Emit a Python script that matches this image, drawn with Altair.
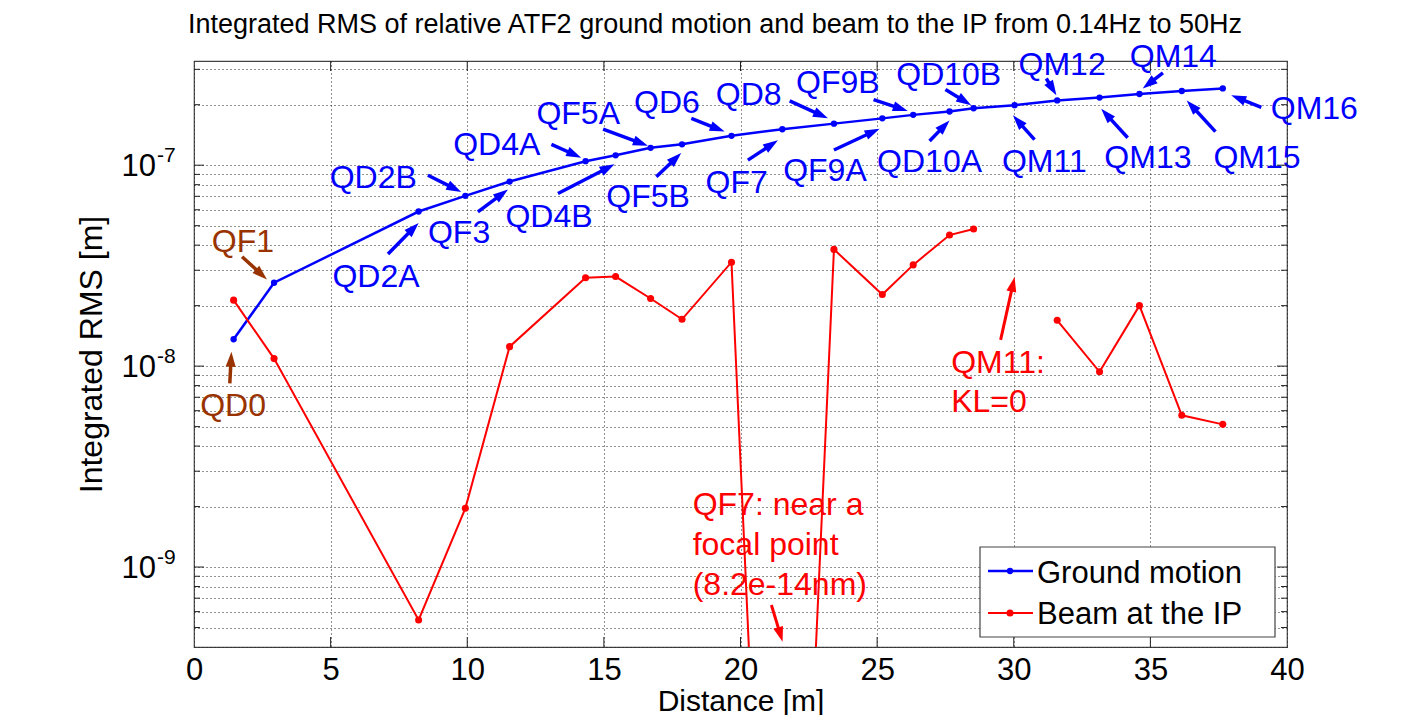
import math
import altair as alt
import pandas as pd

# ---------------- data ----------------
magnets = ["QD0", "QF1", "QD2A", "QD2B", "QF3", "QD4A", "QD4B", "QF5A", "QF5B", "QD6",
           "QF7", "QD8", "QF9A", "QF9B", "QD10A", "QD10B", "QM11", "QM12", "QM13",
           "QM14", "QM15", "QM16"]
distance = [1.45, 2.93, 8.22, 9.93, 11.55, 14.33, 15.43, 16.71, 17.86, 19.67,
            21.53, 23.42, 25.19, 26.32, 27.65, 28.53, 30.03, 31.59, 33.14,
            34.60, 36.15, 37.65]
ground_motion = [1.36e-8, 2.60e-8, 5.88e-8, 7.04e-8, 8.29e-8, 1.047e-7, 1.12e-7, 1.22e-7,
                 1.27e-7, 1.40e-7, 1.51e-7, 1.61e-7, 1.71e-7, 1.78e-7, 1.85e-7, 1.92e-7,
                 1.99e-7, 2.10e-7, 2.17e-7, 2.26e-7, 2.34e-7, 2.41e-7]
beam_ip = [2.13e-8, 1.09e-8, 5.45e-10, 1.96e-9, 1.25e-8, 2.75e-8, 2.79e-8, 2.17e-8,
           1.71e-8, 3.29e-8, 8.2e-14, 3.81e-8, 2.27e-8, 3.19e-8, 4.49e-8, 4.81e-8,
           None, 1.69e-8, 9.37e-9, 2.00e-8, 5.69e-9, 5.13e-9]

# magnet labels: text, label centre (distance, value at baseline), arrow tail, arrow head
label_text = ["QD0", "QF1", "QD2A", "QD2B", "QF3", "QD4A", "QD4B", "QF5A", "QF5B", "QD6",
              "QF7", "QD8", "QF9A", "QF9B", "QD10A", "QD10B", "QM11", "QM12", "QM13",
              "QM14", "QM15", "QM16"]
label_x = [1.43, 1.79, 6.66, 6.56, 9.70, 11.08, 12.99, 14.06, 16.62, 17.31, 19.86, 20.30,
           23.09, 23.56, 26.92, 27.62, 31.12, 31.77, 34.91, 35.84, 38.90, 41.00]
label_y = [5.64e-9, 3.7e-8, 2.47e-8, 7.66e-8, 4.10e-8, 1.12e-7, 4.93e-8, 1.61e-7, 6.21e-8,
           1.81e-7, 7.28e-8, 1.99e-7, 8.32e-8, 2.28e-7, 9.27e-8, 2.50e-7, 9.27e-8, 2.82e-7,
           9.63e-8, 3.08e-7, 9.63e-8, 1.69e-7]
tail_x = [1.31, 1.76, 7.10, 8.56, 10.39, 13.08, 13.32, 14.97, 16.92, 18.20, 20.27, 21.80,
          23.42, 24.87, 26.92, 27.50, 30.76, 31.19, 34.17, 35.46, 37.38, 39.06]
tail_y = [8.2e-9, 3.5e-8, 3.61e-8, 8.91e-8, 5.86e-8, 1.27e-7, 7.23e-8, 1.51e-7, 8.75e-8,
          1.71e-7, 1.06e-7, 2.09e-7, 1.19e-7, 2.12e-7, 1.32e-7, 2.38e-7, 1.34e-7, 2.70e-7,
          1.37e-7, 2.88e-7, 1.47e-7, 1.94e-7]
head_x = [1.37, 2.67, 8.22, 9.78, 11.49, 14.17, 15.39, 16.61, 17.83, 19.42, 21.37, 23.20,
          25.09, 26.12, 27.65, 28.44, 29.97, 31.56, 33.20, 34.72, 36.33, 37.96]
head_y = [1.18e-8, 2.70e-8, 5.16e-8, 7.36e-8, 7.57e-8, 1.09e-7, 1.01e-7, 1.25e-7, 1.15e-7,
          1.47e-7, 1.33e-7, 1.71e-7, 1.52e-7, 1.86e-7, 1.67e-7, 1.99e-7, 1.77e-7, 2.23e-7,
          1.91e-7, 2.41e-7, 2.10e-7, 2.23e-7]
label_color = ["#993300", "#993300"] + ["#0000FF"] * 20

# red notes
note_text = ["QF7: near a", "focal point", "(8.2e-14nm)", "QM11:", "KL=0"]
note_x = [18.25, 18.25, 18.25, 27.71, 27.71]
note_y = [1.82e-9, 1.15e-9, 7.26e-10, 9.23e-9, 5.93e-9]
note_tail_x = [21.13, 29.52]
note_tail_y = [6.47e-10, 1.35e-8]
note_head_x = [21.54, 30.03]
note_head_y = [4.25e-10, 2.78e-8]

x_ticks = [0, 5, 10, 15, 20, 25, 30, 35, 40]
decades = [1e-9, 1e-8, 1e-7]
decade_sup = ["-9", "-8", "-7"]
TITLE = "Integrated RMS of relative ATF2 ground motion and beam to the IP from 0.14Hz to 50Hz"

# ---------------- geometry / styles ----------------
W, H = 1093, 586
XMIN, XMAX = 0, 40
YMIN, YMAX = 4e-10, 3.3e-7
FONT = "Liberation Sans"
BLUE, RED = "#0000FF", "#FF0000"
ARROW = "M0,0L-0.5,1.5L0.5,1.5Z"

LMAX, LMIN = math.log10(YMAX), math.log10(YMIN)


def to_px(d, v):
    return (d - XMIN) / (XMAX - XMIN) * W, (LMAX - math.log10(v)) / (LMAX - LMIN) * H


def to_data(px, py):
    return XMIN + px / W * (XMAX - XMIN), 10 ** (LMAX - py / H * (LMAX - LMIN))


def arrow_rows(tx, ty, hx, hy, color, width):
    rows = []
    for a, b, c, d in zip(tx, ty, hx, hy):
        p0 = to_px(a, b)
        p1 = to_px(c, d)
        dx, dy = p1[0] - p0[0], p1[1] - p0[1]
        n = math.hypot(dx, dy)
        ex, ey = to_data(p1[0] - dx / n * 9, p1[1] - dy / n * 9)
        ang = math.degrees(math.atan2(dx, -dy)) % 360
        rows.append(dict(x=a, y=b, x2=ex, y2=ey, hx=c, hy=d, angle=ang, color=color, w=width))
    return rows


xs = alt.Scale(domain=[XMIN, XMAX], nice=False, zero=False)
ys = alt.Scale(type="log", domain=[YMIN, YMAX], nice=False)

ygrid = [m * 10.0 ** e for e in (-10, -9, -8, -7) for m in range(1, 10)
         if YMIN * 0.999 <= m * 10.0 ** e <= YMAX]
minor = [v for v in ygrid if all(abs(v - d) / d > 1e-6 for d in decades) and v > YMIN * 1.01]

xaxis = alt.Axis(values=x_ticks, grid=True, gridDash=[1, 3], gridColor="#222", gridWidth=1,
                 domain=False, ticks=False, labelFontSize=31, labelFont=FONT,
                 labelColor="black", labelPadding=8, labelFlush=False,
                 title="Distance [m]", titleFont=FONT, titleFontSize=30,
                 titleFontWeight="normal", titleColor="black",
                 titleBaseline="alphabetic", titleY=63, titleX=W / 2)
yaxis = alt.Axis(values=ygrid, grid=True, gridDash=[1, 3], gridColor="#222", gridWidth=1,
                 domain=False, ticks=False, labels=False,
                 title="Integrated RMS [m]", titleFont=FONT, titleFontSize=32,
                 titleFontWeight="normal", titleColor="black", titleAngle=-90,
                 titleBaseline="alphabetic", titleX=-93, titleY=H / 2, titleAlign="center")

df = pd.DataFrame({"magnet": magnets, "distance": distance, "gm": ground_motion,
                   "beam": beam_ip})
seg = []
s = 1
for v in beam_ip:
    if v is None:
        s += 1
    seg.append(s)
df["seg"] = seg
beam_df = df[df["beam"].notna()].copy()


def X(f):
    return alt.X(f, type="quantitative", scale=xs, axis=xaxis)


def Y(f):
    return alt.Y(f, type="quantitative", scale=ys, axis=yaxis)


gm_line = alt.Chart(df).mark_line(color=BLUE, strokeWidth=2.5, clip=True).encode(
    x=X("distance"), y=Y("gm"))
gm_pts = alt.Chart(df).mark_point(color=BLUE, filled=True, size=40, opacity=1,
                                  clip=True).encode(x=X("distance"), y=Y("gm"))
bm_line = alt.Chart(beam_df).mark_line(color=RED, strokeWidth=2, clip=True).encode(
    x=X("distance"), y=Y("beam"), detail="seg:N")
bm_pts = alt.Chart(beam_df).mark_point(color=RED, filled=True, size=50, opacity=1,
                                       clip=True).encode(x=X("distance"), y=Y("beam"))

lab_df = pd.DataFrame({"text": label_text, "x": label_x, "y": label_y, "color": label_color})
labels = alt.Chart(lab_df).mark_text(font=FONT, fontSize=32, align="center",
                                     baseline="alphabetic").encode(
    x=X("x"), y=Y("y"), text="text:N", color=alt.Color("color:N", scale=None))

note_df = pd.DataFrame({"text": note_text, "x": note_x, "y": note_y})
notes = alt.Chart(note_df).mark_text(font=FONT, fontSize=32, align="left",
                                     baseline="alphabetic", color=RED).encode(
    x=X("x"), y=Y("y"), text="text:N")

rows = []
for i in range(len(label_text)):
    rows += arrow_rows([tail_x[i]], [tail_y[i]], [head_x[i]], [head_y[i]],
                       label_color[i], 3.5)
rows += arrow_rows(note_tail_x, note_tail_y, note_head_x, note_head_y, RED, 3)
arr_df = pd.DataFrame(rows)
arr_lines = alt.Chart(arr_df).mark_rule().encode(
    x=X("x"), y=Y("y"), x2="x2:Q", y2="y2:Q",
    color=alt.Color("color:N", scale=None), strokeWidth=alt.StrokeWidth("w:Q", scale=None))
arr_heads = alt.Chart(arr_df).mark_point(shape=ARROW, filled=True, size=400, opacity=1,
                                         strokeWidth=0).encode(
    x=X("hx"), y=Y("hy"), angle=alt.Angle("angle:Q", scale=None),
    color=alt.Color("color:N", scale=None))

# inward ticks (MATLAB box style)
maj_df = pd.DataFrame({"v": decades})
min_df = pd.DataFrame({"v": minor})
xt_df = pd.DataFrame({"d": x_ticks[1:-1]})
tick_layers = [
    alt.Chart(maj_df).mark_rule(color="#222").encode(y=Y("v"), x=alt.value(0), x2=alt.value(10)),
    alt.Chart(maj_df).mark_rule(color="#222").encode(y=Y("v"), x=alt.value(W), x2=alt.value(W - 10)),
    alt.Chart(min_df).mark_rule(color="#222").encode(y=Y("v"), x=alt.value(0), x2=alt.value(6)),
    alt.Chart(min_df).mark_rule(color="#222").encode(y=Y("v"), x=alt.value(W), x2=alt.value(W - 6)),
    alt.Chart(xt_df).mark_rule(color="#222").encode(x=X("d"), y=alt.value(H), y2=alt.value(H - 10)),
    alt.Chart(xt_df).mark_rule(color="#222").encode(x=X("d"), y=alt.value(0), y2=alt.value(10)),
]

# y tick labels "10" with superscript exponent
dec_df = pd.DataFrame({"v": decades, "sup": decade_sup})
ylab = alt.Chart(dec_df).mark_text(font=FONT, fontSize=31, align="right", baseline="middle",
                                   dy=2, color="black").encode(
    y=Y("v"), x=alt.value(-38), text=alt.value("10"))
ysup = alt.Chart(dec_df).mark_text(font=FONT, fontSize=21, align="left",
                                   baseline="alphabetic", dy=-3, color="black").encode(
    y=Y("v"), x=alt.value(-37), text="sup:N")

# chart title (placed as text so that its position is exact)
one = pd.DataFrame({"k": [0]})
title_mark = alt.Chart(one).mark_text(font=FONT, fontSize=27, align="center",
                                      baseline="alphabetic", color="black").encode(
    x=alt.value(521), y=alt.value(-28), text=alt.value(TITLE))

# legend box
LX0, LX1, LY0, LY1 = 786, 1081, 486, 576
legend = [
    alt.Chart(one).mark_rect(fill="white", stroke="#444", strokeWidth=1.2).encode(
        x=alt.value(LX0), x2=alt.value(LX1), y=alt.value(LY0), y2=alt.value(LY1)),
    alt.Chart(one).mark_rule(color=BLUE, strokeWidth=2.5).encode(
        x=alt.value(LX0 + 8), x2=alt.value(LX0 + 53), y=alt.value(LY0 + 24)),
    alt.Chart(one).mark_point(color=BLUE, filled=True, size=40, opacity=1).encode(
        x=alt.value(LX0 + 30), y=alt.value(LY0 + 24)),
    alt.Chart(one).mark_text(font=FONT, fontSize=31, align="left", baseline="alphabetic",
                             color="black").encode(
        x=alt.value(LX0 + 57), y=alt.value(LY0 + 36), text=alt.value("Ground motion")),
    alt.Chart(one).mark_rule(color=RED, strokeWidth=2).encode(
        x=alt.value(LX0 + 8), x2=alt.value(LX0 + 53), y=alt.value(LY0 + 66)),
    alt.Chart(one).mark_point(color=RED, filled=True, size=50, opacity=1).encode(
        x=alt.value(LX0 + 30), y=alt.value(LY0 + 66)),
    alt.Chart(one).mark_text(font=FONT, fontSize=31, align="left", baseline="alphabetic",
                             color="black").encode(
        x=alt.value(LX0 + 57), y=alt.value(LY0 + 77), text=alt.value("Beam at the IP")),
]

chart = alt.layer(
    gm_line, bm_line, gm_pts, bm_pts, arr_lines, arr_heads, labels, notes,
    *tick_layers, ylab, ysup, title_mark, *legend
).properties(
    width=W, height=H,
    padding={"left": 186, "top": 53, "right": 110, "bottom": 68},
    autosize=alt.AutoSizeParams(type="none"),
).configure_view(stroke="#444", strokeWidth=1.2)

chart.save("out.html", embed_options={"renderer": "svg", "actions": False})
